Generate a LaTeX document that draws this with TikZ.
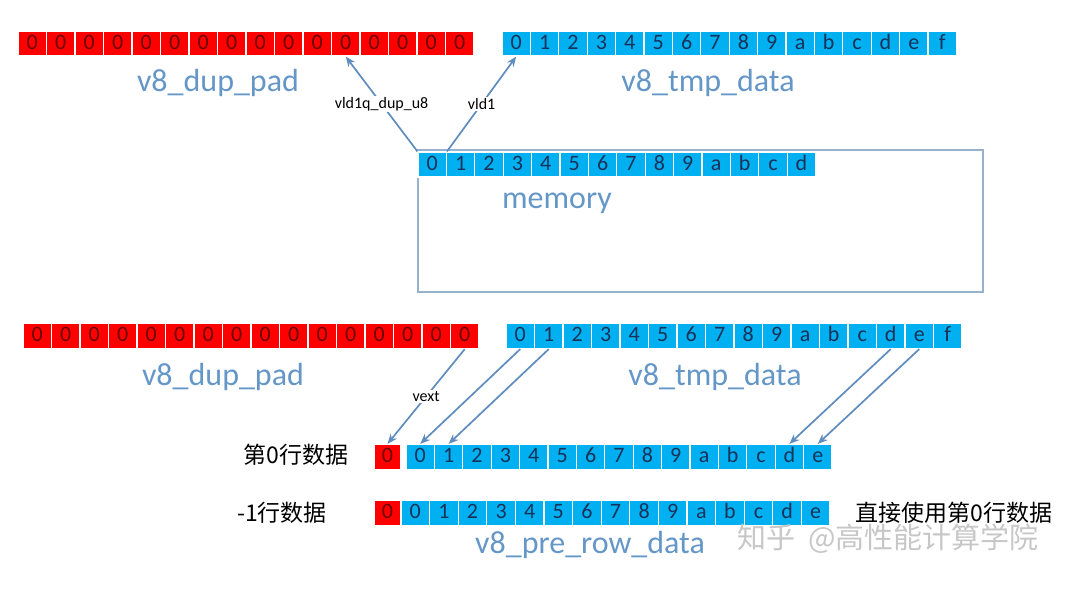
\documentclass[tikz,border=0pt]{standalone}
\usepackage{fontspec}
\setmainfont{Carlito}
\newfontfamily\cjk{Noto Sans CJK SC}
\usetikzlibrary{arrows.meta}

\definecolor{cellred}{RGB}{255,0,0}
\definecolor{cellblue}{RGB}{0,176,240}
\definecolor{redtext}{RGB}{110,0,0}
\definecolor{bluetext}{RGB}{25,50,90}
\definecolor{lblblue}{RGB}{100,150,200}
\definecolor{arrblue}{RGB}{95,140,190}
\definecolor{boxblue}{RGB}{150,178,205}

% one row of byte cells: name, left edge, centre y, style, cell width, texts
\newcommand{\cellrow}[6]{
    \foreach \t [count=\k from 0] in {#6}
        \node[#4, minimum width=#5] (#1\k) at ({#2+#5*\k+#5/2},#3) {\t};
}
\tikzset{x=1pt, y=-1pt,
    cellbase/.style={minimum height=25, inner sep=0pt, text height=14pt, text depth=2pt,
        draw=white, line width=1.2pt, font=\fontsize{22}{22}\selectfont},
    redcell/.style={cellbase, fill=cellred, text=redtext},
    bluecell/.style={cellbase, fill=cellblue, text=bluetext},
    vname/.style={text=lblblue, font=\fontsize{32}{32}\selectfont},
    oplbl/.style={fill=white, inner sep=1pt, font=\fontsize{16}{16}\selectfont},
    rowlbl/.style={font=\cjk\fontsize{23}{23}\selectfont},
    arr/.style={draw=arrblue, line width=1.7pt, -{Stealth[length=10pt, width=8pt]}}}

\begin{document}
\begin{tikzpicture}
    \useasboundingbox (0,0) rectangle (1080,593);
    % top half
    \draw[boxblue, line width=1.2pt] (418,150) rectangle (983,292);
    \cellrow{ra}{18}{43.5}{redcell}{28.5}{0,0,0,0,0,0,0,0,0,0,0,0,0,0,0,0}
    \cellrow{ta}{502}{43.5}{bluecell}{28.4}{0,1,2,3,4,5,6,7,8,9,a,b,c,d,e,f}
    \cellrow{m}{418}{164.5}{bluecell}{28.4}{0,1,2,3,4,5,6,7,8,9,a,b,c,d}
    \node[vname] (padA) at (218,83) {v8\_dup\_pad};
    \node[vname] (tmpA) at (708,83) {v8\_tmp\_data};
    \node[vname] (mem) at (557,203) {memory};
    \draw[arr] (m0.north west) -- node[oplbl] {vld1q\_dup\_u8} (ra11.south);
    \draw[arr] (m0.north east) -- node[oplbl] {vld1} (ta0.south);
    % bottom half
    \cellrow{rb}{23}{336}{redcell}{28.5}{0,0,0,0,0,0,0,0,0,0,0,0,0,0,0,0}
    \cellrow{tb}{506}{336}{bluecell}{28.5}{0,1,2,3,4,5,6,7,8,9,a,b,c,d,e,f}
    \node[vname] (padB) at (223,377) {v8\_dup\_pad};
    \node[vname] (tmpB) at (715,377) {v8\_tmp\_data};
    \cellrow{zr}{374}{457}{redcell}{27}{0}
    \cellrow{z}{406}{457}{bluecell}{28.4}{0,1,2,3,4,5,6,7,8,9,a,b,c,d,e}
    \cellrow{pr}{374}{513}{redcell}{27}{0}
    \cellrow{p}{401}{513}{bluecell}{28.6}{0,1,2,3,4,5,6,7,8,9,a,b,c,d,e}
    \node[rowlbl] (row0) at (296,455) {第0行数据};
    \node[rowlbl] (rowm1) at (282,513) {-1行数据};
    \node[rowlbl] (reuse) at (954,513) {直接使用第0行数据};
    \node[vname] (prerow) at (590,545) {v8\_pre\_row\_data};
    \node[text=black!22, font=\cjk\fontsize{29}{29}\selectfont] (wm) at (888,539) {知乎\ \ @高性能计算学院};
    \draw[arr] (rb15.south) -- node[oplbl] {vext} (zr0.north);
    \draw[arr] (tb0.south) -- (z0.north);
    \draw[arr] (tb1.south) -- (z1.north);
    \draw[arr] (tb13.south) -- (z13.north);
    \draw[arr] (tb14.south) -- (z14.north);
\end{tikzpicture}
\end{document}
